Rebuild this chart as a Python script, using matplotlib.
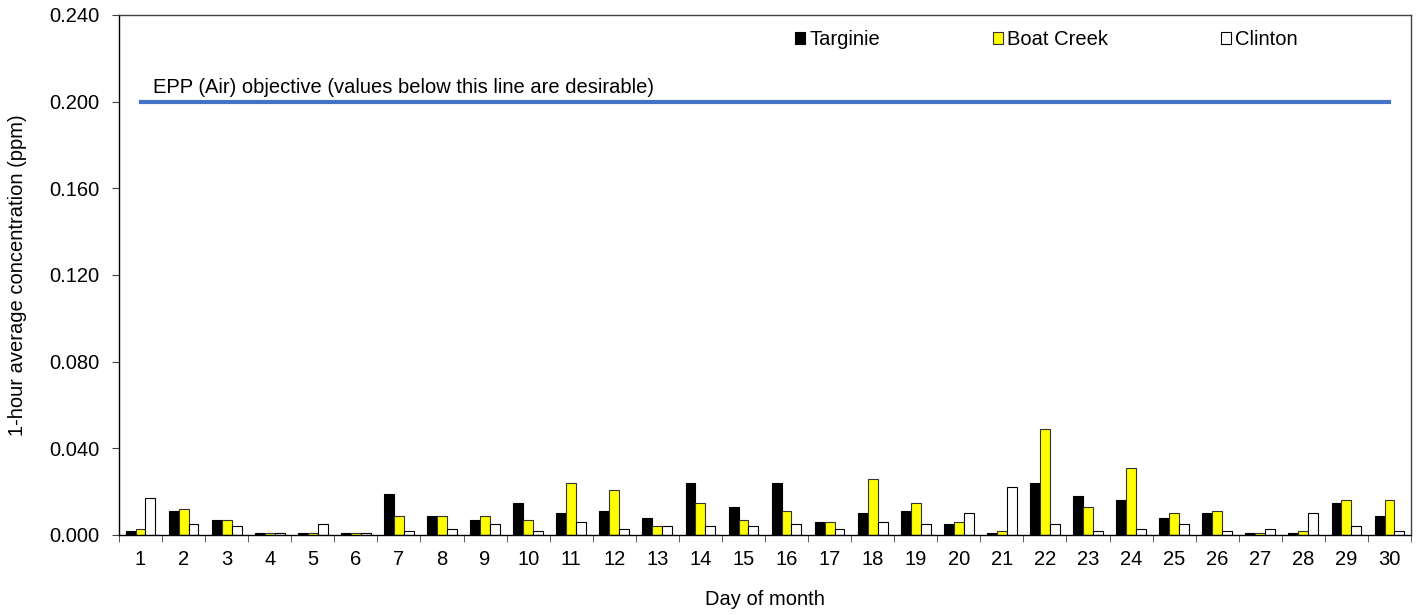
import matplotlib
matplotlib.use("Agg")
import matplotlib.pyplot as plt
import numpy as np
from matplotlib.ticker import FixedLocator, NullFormatter

plt.rcParams['font.family'] = ['Liberation Sans', 'DejaVu Sans']

# values (ppm)
days = list(range(1, 31))
targinie = [0.002, 0.011, 0.007, 0.001, 0.001, 0.001, 0.019, 0.009, 0.007, 0.015,
            0.010, 0.011, 0.008, 0.024, 0.013, 0.024, 0.006, 0.010, 0.011, 0.005,
            0.001, 0.024, 0.018, 0.016, 0.008, 0.010, 0.001, 0.001, 0.015, 0.009]
boat_creek = [0.003, 0.012, 0.007, 0.001, 0.001, 0.001, 0.009, 0.009, 0.009, 0.007,
              0.024, 0.021, 0.004, 0.015, 0.007, 0.011, 0.006, 0.026, 0.015, 0.006,
              0.002, 0.049, 0.013, 0.031, 0.010, 0.011, 0.001, 0.002, 0.016, 0.016]
clinton = [0.017, 0.005, 0.004, 0.001, 0.005, 0.001, 0.002, 0.003, 0.005, 0.002,
           0.006, 0.003, 0.004, 0.004, 0.004, 0.005, 0.003, 0.006, 0.005, 0.010,
           0.022, 0.005, 0.002, 0.003, 0.005, 0.002, 0.003, 0.010, 0.004, 0.002]
objective = 0.200

fs = 14.5

fig = plt.figure(figsize=(14.23, 6.15), dpi=100)
ax = fig.add_axes([119 / 1423, 80 / 615, 1292 / 1423, 520 / 615])

x = np.arange(len(days))
w = 0.23
ax.bar(x - w, targinie, w, color='black', edgecolor='black', linewidth=0.8, label='Targinie')
ax.bar(x, boat_creek, w, color='#FFFF00', edgecolor='#333333', linewidth=0.8, label='Boat Creek')
ax.bar(x + w, clinton, w, color='white', edgecolor='black', linewidth=0.8, label='Clinton')

# objective line, drawn across the day range only
ax.plot([x[0], x[-1]], [objective, objective], color='#4472C4', linewidth=3)
ax.text(0.3, objective + 0.002, 'EPP (Air) objective (values below this line are desirable)',
        fontsize=fs, va='bottom', ha='left')

ax.set_xlim(-0.5, len(days) - 0.5)
ax.set_ylim(0, 0.240)
yt = np.arange(0, 0.2401, 0.040)
ax.set_yticks(yt)
ax.set_yticklabels([f'{v:.3f}' for v in yt], fontsize=fs)
ax.set_xticks(x)
ax.set_xticklabels([str(d) for d in days], fontsize=fs)
ax.tick_params(axis='x', which='major', length=0, pad=11)
# tick marks sit between the days
ax.xaxis.set_minor_locator(FixedLocator(np.arange(-0.5, len(days), 1.0)))
ax.xaxis.set_minor_formatter(NullFormatter())
ax.tick_params(axis='x', which='minor', length=5, color='#404040')
ax.tick_params(axis='y', length=5, color='#404040', pad=9)

for s in ax.spines.values():
    s.set_color('#404040')
    s.set_linewidth(1)
ax.spines['left'].set_color('black')
ax.spines['bottom'].set_color('black')

ax.set_xlabel('Day of month', fontsize=fs, labelpad=15)
ax.set_ylabel('1-hour average concentration (ppm)', fontsize=fs, labelpad=16)

ax.legend(loc='center left', bbox_to_anchor=(0.5235, 0.953), ncol=3, frameon=False,
          fontsize=fs, handlelength=0.5, handleheight=0.5, handletextpad=0.2,
          columnspacing=5.6, borderpad=0, borderaxespad=0)

fig.savefig('out.png', dpi=100)
